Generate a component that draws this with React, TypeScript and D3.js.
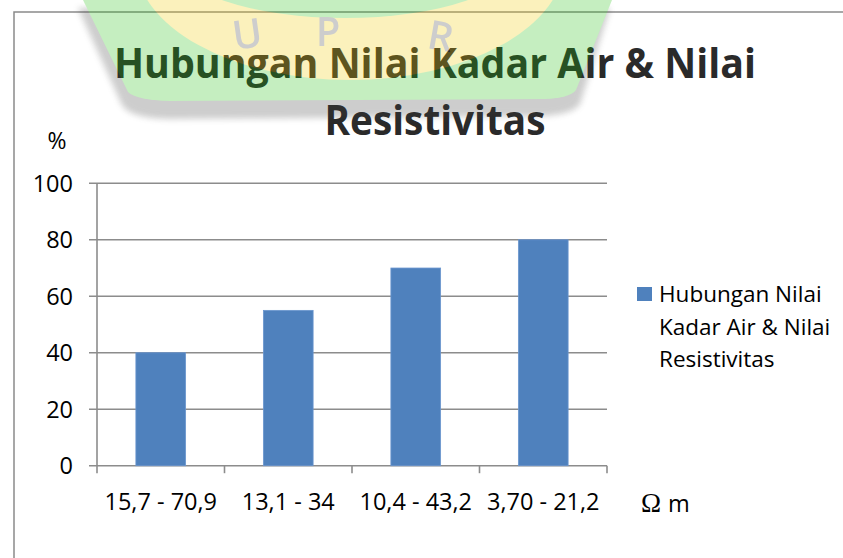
import React from "react";
import * as d3 from "d3";

const categories = ["15,7 - 70,9", "13,1 - 34", "10,4 - 43,2", "3,70 - 21,2"];
const values = [40, 55, 70, 80];
const yTicks = [0, 20, 40, 60, 80, 100];
const titleLines = ["Hubungan Nilai Kadar Air & Nilai", "Resistivitas"];
const legendLines = ["Hubungan Nilai", "Kadar Air & Nilai", "Resistivitas"];
const yUnit = "%";
const xUnitSymbol = "Ω";
const xUnitLetter = "m";

const W = 843;
const H = 558;
const FONT = "'Open Sans', 'Noto Sans', sans-serif";

export default function App() {
  const margin = { left: 97, right: 843 - 607, top: 183.3, bottom: 558 - 465.7 };
  const x = d3
    .scaleBand<string>()
    .domain(categories)
    .range([margin.left, W - margin.right])
    .paddingInner(0.61)
    .paddingOuter(0.305);
  const xOuter = d3.scaleBand<string>().domain(categories).range([margin.left, W - margin.right]);
  const y = d3.scaleLinear().domain([0, 100]).range([H - margin.bottom, margin.top]);
  const grid = "#8c8c8c";
  const boundaries = [...categories.map((c) => xOuter(c) as number), W - margin.right];
  const titleWidths = [642, 221];

  return (
    <svg width={W} height={H} style={{ position: "absolute", left: 0, top: 0, background: "#fff" }} fontFamily={FONT}>
      <defs>
        <filter id="blur" x="-20%" y="-20%" width="140%" height="140%">
          <feGaussianBlur stdDeviation="3" />
        </filter>
      </defs>
      {/* chart border */}
      <path d={`M14,${H} L14,12 L${W},12`} fill="none" stroke="#8a8a8a" strokeWidth={1.5} />

      {/* gridlines */}
      {yTicks.map((t) => (
        <g key={t}>
          <line x1={89} x2={W - margin.right} y1={y(t)} y2={y(t)} stroke={grid} strokeWidth={1.6} />
          <text x={73} y={y(t)} dy="0.36em" textAnchor="end" fontSize={23.5} fill="#000">
            {t}
          </text>
        </g>
      ))}
      {/* y axis */}
      <line x1={margin.left} x2={margin.left} y1={y(100)} y2={y(0)} stroke={grid} strokeWidth={1.6} />
      {/* x ticks */}
      {boundaries.map((b, i) => (
        <line key={i} x1={b} x2={b} y1={y(0)} y2={y(0) + 7.5} stroke={grid} strokeWidth={1.6} />
      ))}

      {/* bars */}
      {categories.map((c, i) => (
        <rect
          key={c}
          x={x(c)}
          y={y(values[i])}
          width={x.bandwidth()}
          height={y(0) - y(values[i])}
          fill="#4f81bd"
          stroke="#6b96cf"
          strokeWidth={0.8}
        />
      ))}

      {/* category labels */}
      {categories.map((c) => (
        <text
          key={c}
          x={(xOuter(c) as number) + xOuter.bandwidth() / 2}
          y={509.5}
          textAnchor="middle"
          fontSize={23.5}
          fill="#000"
        >
          {c}
        </text>
      ))}

      {/* units */}
      <text x={57} y={149} textAnchor="middle" fontSize={23} fill="#000">
        {yUnit}
      </text>
      <text x={641} y={512} fontSize={27} fill="#000">
        <tspan fontFamily="'Liberation Serif', serif">{xUnitSymbol}</tspan>
        <tspan dx={7} fontFamily={FONT} fontSize={23.5}>
          {xUnitLetter}
        </tspan>
      </text>

      {/* legend */}
      <rect x={637} y={287} width={15} height={14} fill="#4f81bd" />
      {legendLines.map((l, i) => (
        <text key={l} x={659} y={302 + i * 32.5} fontSize={22.5} fill="#000">
          {l}
        </text>
      ))}

      {/* title */}
      {titleLines.map((l, i) => (
        <text
          key={l}
          x={435}
          y={78 + i * 57}
          textAnchor="middle"
          fontSize={42}
          fontWeight={700}
          fill="#2a2a2a"
          textLength={titleWidths[i]}
          lengthAdjust="spacingAndGlyphs"
        >
          {l}
        </text>
      ))}

      {/* faint watermark logo overlaying the top */}
      <g opacity={0.26}>
        <path
          d="M 80 0 L 124 97 Q 132 110 170 111 L 545 108 Q 575 106 582 96 L 612 0 Z"
          fill="#404040"
          filter="url(#blur)"
          transform="translate(-2,8)"
        />
        <path d="M 83 0 L 128 92 Q 136 100 170 101 L 545 99 Q 570 98 576 90 L 612 0 Z" fill="#22c010" />
        <ellipse cx={350} cy={-40} rx={215} ry={120} fill="#f0cc00" />
        <ellipse cx={345} cy={-40} rx={170} ry={58} fill="#22c010" />
        <text x={248} y={48} textAnchor="middle" fontSize={40} fontWeight={600} fill="#404040" transform="rotate(-8,248,40)">
          U
        </text>
        <text x={328} y={46} textAnchor="middle" fontSize={40} fontWeight={600} fill="#404040">
          P
        </text>
        <text x={440} y={50} textAnchor="middle" fontSize={40} fontWeight={600} fill="#404040" transform="rotate(10,440,40)">
          R
        </text>
      </g>
    </svg>
  );
}
